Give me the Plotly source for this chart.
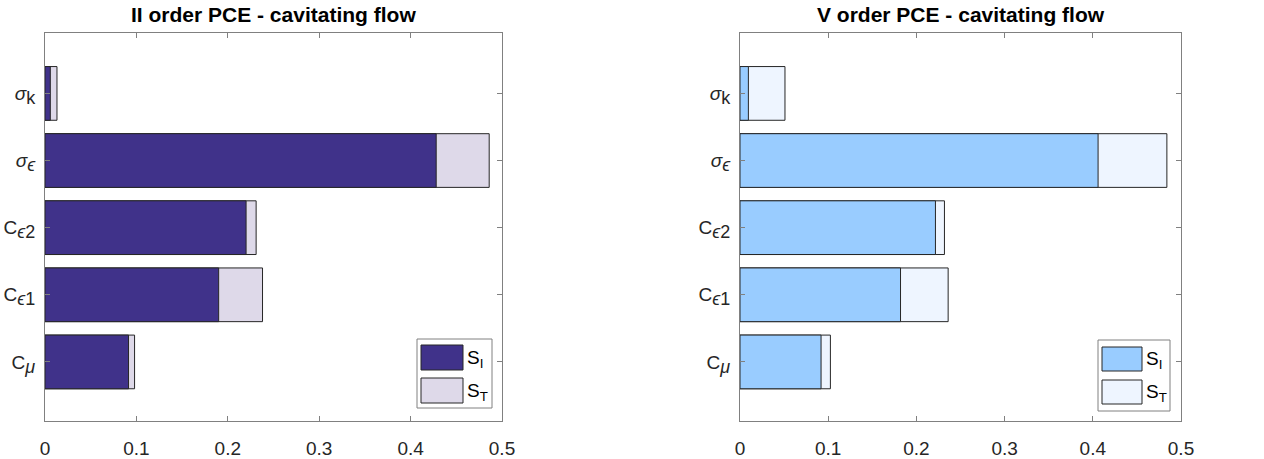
import plotly.graph_objects as go

W, H = 1264, 459

SUBF = "<span style='font-size:18px'>{}</span>"
cat_labels = [
    "C<sub>" + SUBF.format("<i>μ</i>") + "</sub>",
    "C<sub>" + SUBF.format("<i>ϵ</i>1") + "</sub>",
    "C<sub>" + SUBF.format("<i>ϵ</i>2") + "</sub>",
    "<i>σ</i><sub>" + SUBF.format("<i>ϵ</i>") + "</sub>",
    "<i>σ</i><sub>" + SUBF.format("k") + "</sub>",
]
cat_pos = [1, 2, 3, 4, 5]

left_SI = [0.0914, 0.190, 0.220, 0.428, 0.0058]
left_ST = [0.098, 0.238, 0.231, 0.486, 0.0131]
right_SI = [0.0919, 0.182, 0.2216, 0.406, 0.0095]
right_ST = [0.1025, 0.236, 0.2318, 0.484, 0.051]

titles = ["II order PCE - cavitating flow", "V order PCE - cavitating flow"]
x_ticks = [0, 0.1, 0.2, 0.3, 0.4, 0.5]
x_ticklabels = ["0", "0.1", "0.2", "0.3", "0.4", "0.5"]

colors_left = ("#40328A", "#DED9E9")
colors_right = ("#99CCFF", "#EEF5FF")

FONT = "Liberation Sans, Arial, sans-serif"

# pixel layout
dom_left = (45 / W, 502 / W)
dom_right = (740 / W, 1181 / W)
dom_y = (1 - 421 / H, 1 - 33 / H)

fig = go.Figure()
line = dict(color="#262626", width=1)

for i, (si, st, cols) in enumerate([(left_SI, left_ST, colors_left), (right_SI, right_ST, colors_right)]):
    xa = "x" if i == 0 else "x2"
    ya = "y" if i == 0 else "y2"
    fig.add_trace(go.Bar(x=st, y=cat_pos, orientation="h", width=0.8, marker=dict(color=cols[1], line=line),
                         xaxis=xa, yaxis=ya, showlegend=False, name="S_T"))
    fig.add_trace(go.Bar(x=si, y=cat_pos, orientation="h", width=0.8, marker=dict(color=cols[0], line=line),
                         xaxis=xa, yaxis=ya, showlegend=False, name="S_I"))

axis_common = dict(showline=True, linecolor="#808080", linewidth=1, mirror="ticks", ticks="inside",
                   ticklen=5, tickcolor="#808080", showgrid=False, zeroline=False, automargin=False,
                   tickfont=dict(family=FONT, size=19, color="#262626"))

for i, dom in enumerate([dom_left, dom_right]):
    sfx = "" if i == 0 else "2"
    fig.update_layout(**{
        "xaxis" + sfx: dict(domain=dom, range=[0, 0.5], tickvals=x_ticks, ticktext=x_ticklabels,
                            anchor="y" + sfx, ticklabelstandoff=10, **axis_common),
        "yaxis" + sfx: dict(domain=dom_y, range=[0.12, 5.9], tickvals=cat_pos, ticktext=cat_labels,
                            anchor="x" + sfx, ticklabelstandoff=5, **axis_common),
    })
    fig.add_annotation(text="<b>" + titles[i] + "</b>", xref="paper", yref="paper",
                       x=(dom[0] + dom[1]) / 2, y=1 - 15 / H, xanchor="center", yanchor="middle",
                       showarrow=False, font=dict(family=FONT, size=21, color="#000"))

# legends (drawn as boxes)
legends = [
    dict(box=(417, 492, 339, 408), px=(421, 463), rows=((345, 370), (378, 403)), cols=colors_left),
    dict(box=(1098, 1170, 340, 411), px=(1102, 1142), rows=((347, 371), (380, 404)), cols=colors_right),
]
def px2x(p):
    return p / W
def py2y(p):
    return 1 - p / H

for lg in legends:
    b = lg["box"]
    fig.add_shape(type="rect", xref="paper", yref="paper", x0=px2x(b[0]), x1=px2x(b[1]),
                  y0=py2y(b[3]), y1=py2y(b[2]), line=dict(color="#808080", width=1), fillcolor="white")
    for j, (r0, r1) in enumerate(lg["rows"]):
        fig.add_shape(type="rect", xref="paper", yref="paper", x0=px2x(lg["px"][0]), x1=px2x(lg["px"][1]),
                      y0=py2y(r1), y1=py2y(r0), line=dict(color="#262626", width=1), fillcolor=lg["cols"][j])
        txt = "S<sub>I</sub>" if j == 0 else "S<sub>T</sub>"
        fig.add_annotation(text=txt, xref="paper", yref="paper", x=px2x(lg["px"][1] + 2),
                           y=py2y((r0 + r1) / 2 + 1), xanchor="left", yanchor="middle", showarrow=False,
                           font=dict(family=FONT, size=19, color="#000"))

fig.update_layout(width=W, height=H, margin=dict(l=0, r=0, t=0, b=0), barmode="overlay",
                  plot_bgcolor="white", paper_bgcolor="white", showlegend=False)

fig.write_html("out.html", config={"displayModeBar": False},
               post_script="document.body.style.margin='0px';document.body.style.overflow='hidden';")
